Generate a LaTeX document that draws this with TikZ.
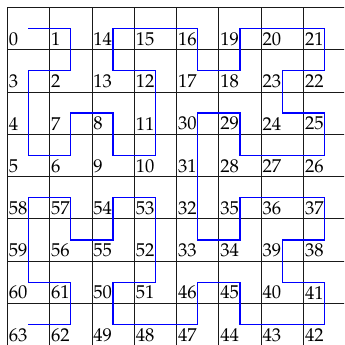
\documentclass[tikz,border=0pt]{standalone}
\usepackage[T1]{fontenc}
\usepackage{mathpazo}
\usepackage{tikz}

\begin{document}
\begin{tikzpicture}[
  x=1cm, y=1cm,
  gridline/.style={draw=black!90, line width=0.6pt},
  curve/.style={draw=blue, line width=0.9pt, line join=miter},
  lbl/.style={anchor=south west, inner xsep=0.8pt, inner ysep=2.6pt,
              font=\fontsize{12.5}{14}\selectfont}
]
  % Frame
  \useasboundingbox (-0.173,0.173) rectangle (7.96,-7.98);
  \clip (-0.173,0.173) rectangle (7.96,-7.98);

  % Grid
  \draw[gridline] (0,-8) grid (8,0);

  % Cells: index/column/row
  \foreach \n/\cx/\cy in {0/0/0, 1/1/0, 2/1/1, 3/0/1, 4/0/2, 5/0/3, 6/1/3, 7/1/2,
      8/2/2, 9/2/3, 10/3/3, 11/3/2, 12/3/1, 13/2/1, 14/2/0, 15/3/0,
      16/4/0, 17/4/1, 18/5/1, 19/5/0, 20/6/0, 21/7/0, 22/7/1, 23/6/1,
      24/6/2, 25/7/2, 26/7/3, 27/6/3, 28/5/3, 29/5/2, 30/4/2, 31/4/3,
      32/4/4, 33/4/5, 34/5/5, 35/5/4, 36/6/4, 37/7/4, 38/7/5, 39/6/5,
      40/6/6, 41/7/6, 42/7/7, 43/6/7, 44/5/7, 45/5/6, 46/4/6, 47/4/7,
      48/3/7, 49/2/7, 50/2/6, 51/3/6, 52/3/5, 53/3/4, 54/2/4, 55/2/5,
      56/1/5, 57/1/4, 58/0/4, 59/0/5, 60/0/6, 61/1/6, 62/1/7, 63/0/7} {
    \coordinate (p\n) at (\cx+0.5,-\cy-0.5);
    \node[lbl] (l\n) at (\cx,-\cy-1) {\n};
  }

  % Hilbert curve
  \draw[curve] (p0) \foreach \n in {1,...,63} {-- (p\n)};
\end{tikzpicture}
\end{document}
